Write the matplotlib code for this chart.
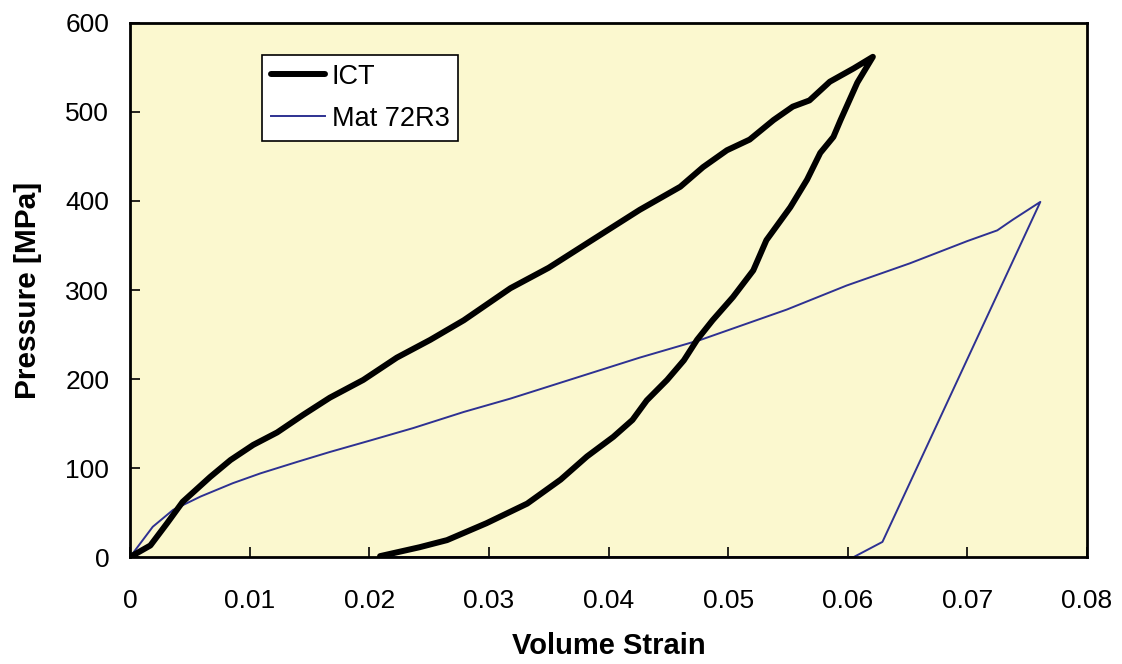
import matplotlib
matplotlib.use("Agg")
import matplotlib.pyplot as plt

plt.rcParams['font.family'] = ['Liberation Sans', 'DejaVu Sans']

# ICT: loading then unloading
ict_strain = [0.0, 0.0017, 0.0031, 0.0044, 0.0067, 0.0084, 0.0103, 0.0123, 0.0145, 0.0167,
              0.0195, 0.0223, 0.0251, 0.0279, 0.0318, 0.035, 0.0385, 0.0426, 0.046, 0.0479,
              0.0499, 0.0518, 0.0538, 0.0554, 0.0568, 0.0585, 0.0605, 0.0621,
              0.0608, 0.0594, 0.0588, 0.0577, 0.0566, 0.0552, 0.0532, 0.0521, 0.0504, 0.0487,
              0.0474, 0.0463, 0.0449, 0.0432, 0.042, 0.0404, 0.0382, 0.036, 0.0332, 0.0298,
              0.0265, 0.0242, 0.0209]
ict_pressure = [0, 13, 38, 62, 90, 109, 126, 140, 160, 179,
                199, 224, 244, 266, 302, 325, 355, 390, 416, 438,
                457, 469, 491, 506, 513, 534, 549, 562,
                533, 491, 472, 454, 424, 393, 356, 322, 292, 266,
                244, 221, 199, 176, 154, 135, 113, 87, 60, 38,
                19, 11, 1]

# Mat 72R3: loading then unloading
mat_strain = [0.0, 0.0019, 0.0036, 0.0059, 0.0086, 0.0109, 0.014, 0.0167, 0.0201, 0.0237,
              0.0279, 0.0318, 0.0426, 0.0477, 0.0549, 0.0599, 0.0652, 0.07, 0.0725, 0.0738,
              0.0761, 0.0629, 0.0605, 0.0215]
mat_pressure = [0, 34, 53, 68, 83, 94, 107, 118, 131, 145,
                163, 178, 224, 244, 278, 305, 330, 355, 367, 379,
                399, 17, 0, 0]

x_ticks = [0, 0.01, 0.02, 0.03, 0.04, 0.05, 0.06, 0.07, 0.08]
x_tick_labels = ['0', '0.01', '0.02', '0.03', '0.04', '0.05', '0.06', '0.07', '0.08']
y_ticks = [0, 100, 200, 300, 400, 500, 600]

fig = plt.figure(figsize=(11.22, 6.64), dpi=100)
ax = fig.add_axes([0.1159, 0.1611, 0.8529, 0.8043])
ax.set_facecolor('#FBF8CF')

ax.plot(mat_strain, mat_pressure, color='#2E3192', lw=1.4, label='Mat 72R3', zorder=2)
ax.plot(ict_strain, ict_pressure, color='black', lw=4.3, label='ICT', zorder=3,
        solid_joinstyle='round', solid_capstyle='round')

ax.set_xlim(0, 0.08)
ax.set_ylim(0, 600)
ax.set_xticks(x_ticks)
ax.set_xticklabels(x_tick_labels)
ax.set_yticks(y_ticks)
ax.tick_params(axis='both', direction='in', length=7.5, width=1.2, labelsize=19)
ax.tick_params(axis='x', pad=23)
ax.tick_params(axis='y', pad=15)
for s in ax.spines.values():
    s.set_linewidth(2)
    s.set_color('black')

ax.set_xlabel('Volume Strain', fontsize=21, fontweight='bold', labelpad=14)
ax.set_ylabel('Pressure [MPa]', fontsize=21.5, fontweight='bold', labelpad=17)

handles, labels = ax.get_legend_handles_labels()
leg = ax.legend(handles[::-1], labels[::-1], loc='upper left', bbox_to_anchor=(0.138, 0.94),
                fontsize=19.5, frameon=True, fancybox=False, framealpha=1, edgecolor='black',
                handlelength=2.0, borderpad=0.32, labelspacing=0.6, handletextpad=0.25,
                borderaxespad=0)
leg.get_frame().set_linewidth(1.2)

fig.savefig('out.png', dpi=100, facecolor='white')
